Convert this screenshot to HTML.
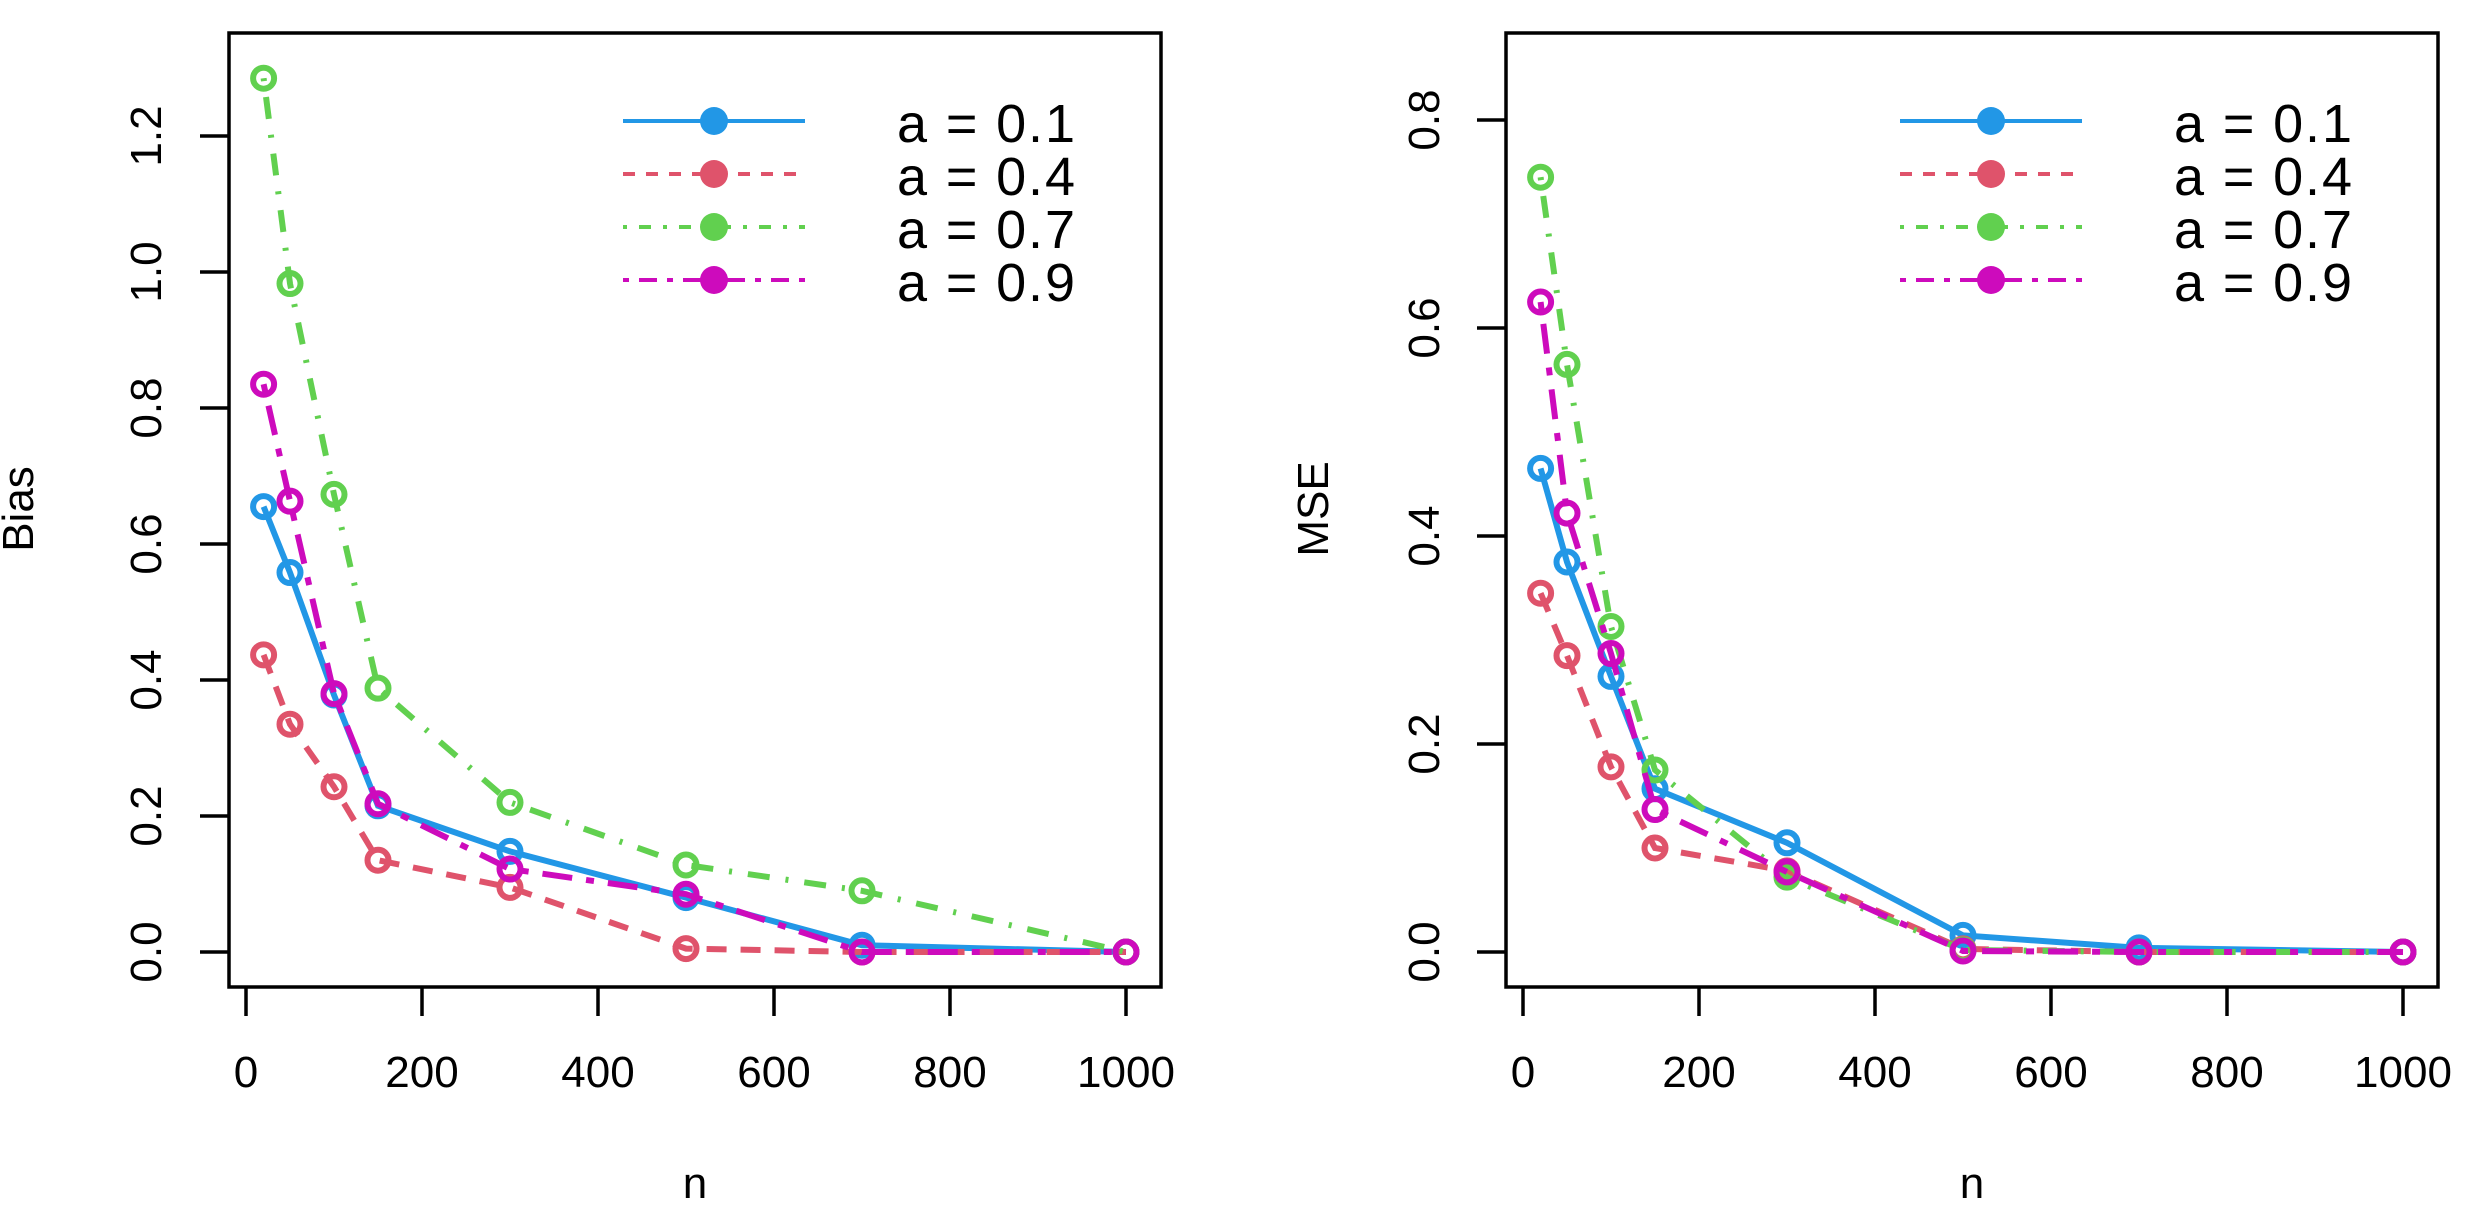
<!DOCTYPE html>
<html><head><meta charset="utf-8"><style>html,body{margin:0;padding:0;background:#fff}svg{display:block}</style></head>
<body>
<svg id="s" width="2481" height="1227" xmlns="http://www.w3.org/2000/svg" font-family="Liberation Sans, sans-serif"></svg>
<script>
const s=document.getElementById('s');let h='';
const N=[20,50,100,150,300,500,700,1000];
const cols=['#2297E6','#DF536B','#61D04F','#CD0BBC'];
const dash=['none','20,14','3,16,22,16','8,14,30,14'];
const ldash=['none','12,11','4,12,12,12','6,10,18,10'];
const L={bx:[229,1161],x0:246,x1:1126,y0:952,pu:680,ticks:[0,0.2,0.4,0.6,0.8,1.0,1.2],lab:'Bias',labx:33,tlx:161,lx:[623,805,714],tx:897,
d:[[.655,.558,.378,.215,.148,.08,.01,0],[.437,.335,.243,.135,.095,.005,0,0],[1.285,.983,.673,.388,.22,.128,.09,0],[.835,.663,.38,.218,.122,.085,0,0]]};
const R={bx:[1506,2438],x0:1523,x1:2403,y0:952,pu:1040,ticks:[0,0.2,0.4,0.6,0.8],lab:'MSE',labx:1328,tlx:1439,lx:[1900,2082,1991],tx:2174,
d:[[.465,.375,.265,.157,.105,.016,.004,0],[.345,.285,.178,.1,.078,.003,0,0],[.745,.565,.313,.175,.072,.002,0,0],[.625,.422,.287,.137,.077,.001,0,0]]};
for(const P of [L,R]){
 const X=n=>P.x0+(P.x1-P.x0)*n/1000, Y=v=>P.y0-P.pu*v;
 h+=`<rect x="${P.bx[0]}" y="33" width="${P.bx[1]-P.bx[0]}" height="954" fill="none" stroke="#000" stroke-width="3.5"/>`;
 for(let t=0;t<=1000;t+=200){h+=`<line x1="${X(t)}" y1="987" x2="${X(t)}" y2="1016" stroke="#000" stroke-width="3.5"/><text x="${X(t)}" y="1087" font-size="44" text-anchor="middle">${t}</text>`;}
 for(const t of P.ticks){const y=Y(t);
  h+=`<line x1="${P.bx[0]}" y1="${y}" x2="${P.bx[0]-29}" y2="${y}" stroke="#000" stroke-width="3.5"/>`;
  h+=`<text transform="translate(${P.tlx},${y}) rotate(-90)" font-size="44" text-anchor="middle">${t.toFixed(1)}</text>`;}
 h+=`<text x="${(P.bx[0]+P.bx[1])/2}" y="1198" font-size="44" text-anchor="middle">n</text>`;
 h+=`<text transform="translate(${P.labx},509) rotate(-90)" font-size="44" text-anchor="middle">${P.lab}</text>`;
 for(let i=0;i<4;i++){
  const pts=N.map((n,k)=>X(n)+','+Y(P.d[i][k])).join(' ');
  h+=`<polyline points="${pts}" fill="none" stroke="${cols[i]}" stroke-width="6" stroke-dasharray="${dash[i]}"/>`;
  N.forEach((n,k)=>{h+=`<circle cx="${X(n)}" cy="${Y(P.d[i][k])}" r="10.5" fill="none" stroke="${cols[i]}" stroke-width="6"/>`});
 }
 for(let i=0;i<4;i++){
  const ly=121+53*i;
  h+=`<line x1="${P.lx[0]}" y1="${ly}" x2="${P.lx[1]}" y2="${ly}" stroke="${cols[i]}" stroke-width="4" stroke-dasharray="${ldash[i]}"/>`;
  h+=`<circle cx="${P.lx[2]}" cy="${ly}" r="14" fill="${cols[i]}"/>`;
  h+=`<text x="${P.tx}" y="${ly+21}" font-size="54" textLength="178" lengthAdjust="spacing">a = 0.${[1,4,7,9][i]}</text>`;
 }
}
s.innerHTML=h;
</script>
</body></html>
